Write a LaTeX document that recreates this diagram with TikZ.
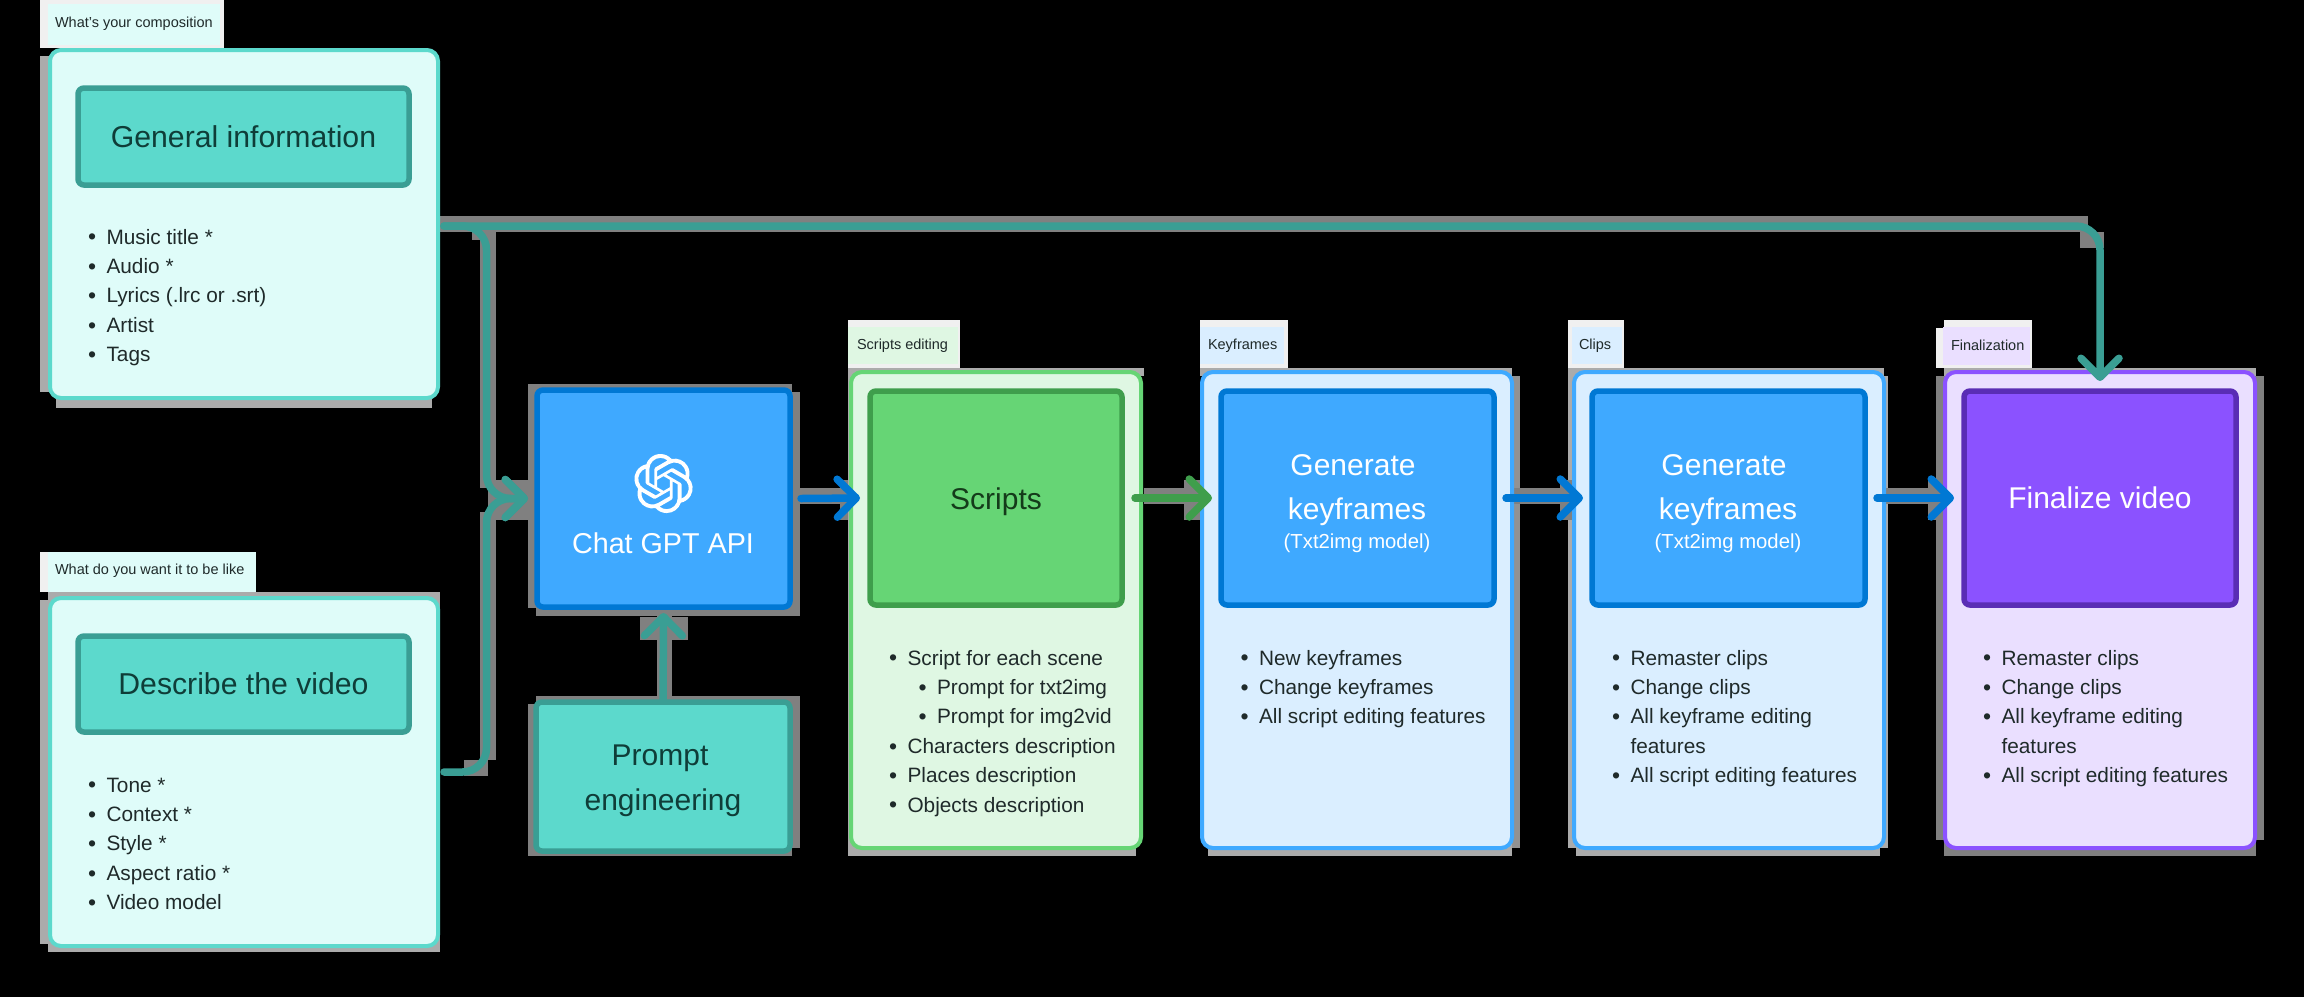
\documentclass[tikz,border=0pt]{standalone}
\usepackage{fontspec}
\setmainfont{Liberation Sans}
\usetikzlibrary{arrows.meta,svg.path}
\definecolor{teal1}{HTML}{5CD9CC}\definecolor{teal2}{HTML}{3A9E94}\definecolor{teal3}{HTML}{DFFCF9}
\definecolor{blue1}{HTML}{3FA9FF}\definecolor{blue2}{HTML}{0078D4}\definecolor{blue3}{HTML}{DAEEFF}
\definecolor{green1}{HTML}{66D575}\definecolor{green2}{HTML}{3F9E4C}\definecolor{green3}{HTML}{DFF7E3}
\definecolor{purp1}{HTML}{8B52FF}\definecolor{purp2}{HTML}{5A2DB5}\definecolor{purp3}{HTML}{EADFFF}
\definecolor{ink}{HTML}{1F2A2A}\definecolor{tealink}{HTML}{0F3D38}\definecolor{greenink}{HTML}{143B1A}
\definecolor{shgrey}{HTML}{808080}\definecolor{shmid}{HTML}{929292}\definecolor{shlight}{HTML}{ABABAB}\definecolor{shpale}{HTML}{F0F0F0}
\newcommand\fsz[1]{\fontsize{#1}{#1}\selectfont}
\newcommand\bx[7]{\pgfmathsetmacro\bxw{#5-#3}\pgfmathsetmacro\bxh{#6-#4}%
  \node[#2,minimum width=\bxw pt,minimum height=\bxh pt] (#1) at (#3,#4) {#7};}
\newcommand\shd[5]{\fill[#1] (#2,#3) rectangle (#4,#5);}
\newcommand\blist[4]{\node[listtext] (#1) at (#2,#3) {\begin{tabular}{@{}l@{\hspace{10.5pt}}l@{}}#4\end{tabular}};}
\newcommand\bul{\raisebox{-0.8pt}{\fontsize{23}{23}\selectfont\textbullet}}
\newcommand\sub[1]{\hspace{11pt}\bul\hspace{10.5pt}#1}
\tikzset{
 base/.style={anchor=north west,outer sep=0pt,inner sep=0pt,align=center},
 card/.style={base,rounded corners=11pt,line width=4pt},
 inbox/.style={base,rounded corners=6pt,line width=5.5pt},
 tealcard/.style={card,draw=teal1,fill=teal3},
 bluecard/.style={card,draw=blue1,fill=blue3},
 greencard/.style={card,draw=green1,fill=green3},
 purpcard/.style={card,draw=purp1,fill=purp3},
 tealbox/.style={inbox,draw=teal2,fill=teal1,text=tealink,font=\fsz{30.2}},
 bluebox/.style={inbox,draw=blue2,fill=blue1,text=white,font=\fsz{30}},
 greenbox/.style={inbox,draw=green2,fill=green1,text=greenink,font=\fsz{30}},
 purpbox/.style={inbox,draw=purp2,fill=purp1,text=white,font=\fsz{30}},
 tag/.style={anchor=west,inner sep=0pt,outer sep=0pt,text=ink,font=\fsz{14.5}},
 listtext/.style={anchor=north west,inner sep=0pt,outer sep=0pt,text=ink,font=\fontsize{20.8}{29.4}\selectfont},
 boxtext/.style={inner sep=0pt,outer sep=0pt},
 conn/.style={line width=7.5pt,line cap=round,-{Straight Barb[length=19pt,width=38pt,round]}},
}
\begin{document}
\begin{tikzpicture}[x=1pt,y=-1pt]
\useasboundingbox (0,0) rectangle (2304,997);
\fill[black] (0,0) rectangle (2304,997);
% shadows
\shd{shpale}{40}{0}{224}{48}
\shd{shlight}{40}{56}{432}{392}\shd{shlight}{56}{56}{432}{408}
\shd{shpale}{40}{552}{256}{592}
\shd{shlight}{48}{592}{440}{600}\shd{shlight}{40}{600}{432}{944}\shd{shlight}{48}{600}{440}{952}
\shd{shgrey}{528}{384}{792}{608}\shd{shgrey}{536}{392}{800}{616}
\shd{shgrey}{528}{704}{792}{856}\shd{shgrey}{536}{696}{800}{848}
\shd{shpale}{848}{320}{960}{368}\shd{shlight}{848}{368}{1144}{376}\shd{shlight}{848}{376}{1136}{856}
\shd{shpale}{1200}{320}{1288}{368}\shd{shlight}{1200}{368}{1512}{376}\shd{shmid}{1208}{376}{1520}{848}\shd{shlight}{1208}{840}{1512}{856}
\shd{shpale}{1568}{320}{1624}{368}\shd{shlight}{1568}{368}{1884}{376}\shd{shlight}{1568}{376}{1888}{848}\shd{shlight}{1576}{840}{1880}{856}
\shd{shpale}{1944}{320}{2032}{368}\shd{shpale}{1936}{328}{1944}{368}\shd{shlight}{1944}{368}{2256}{376}\shd{shgrey}{1936}{376}{2264}{840}\shd{shgrey}{1944}{840}{2256}{856}
% connector shadows
\shd{shgrey}{440}{216}{2088}{232}\shd{shgrey}{2080}{232}{2104}{248}
\shd{shgrey}{472}{232}{496}{240}\shd{shgrey}{480}{240}{496}{488}\shd{shgrey}{488}{488}{528}{512}\shd{shgrey}{496}{480}{528}{520}\shd{shgrey}{480}{512}{496}{760}
\shd{shgrey}{464}{760}{488}{776}
\shd{shgrey}{800}{488}{848}{504}\shd{shgrey}{840}{480}{848}{520}
\shd{shgrey}{1144}{488}{1184}{504}\shd{shgrey}{1184}{480}{1200}{520}
\shd{shgrey}{1514}{488}{1560}{504}\shd{shgrey}{1560}{480}{1576}{520}
\shd{shgrey}{1886}{488}{1928}{504}\shd{shgrey}{1928}{480}{1944}{520}
\shd{shgrey}{657}{610}{672}{700}\shd{shgrey}{640}{617}{688}{640}
% tag fills and tags
\shd{teal3}{48}{4}{220}{45}\node[tag] (tag1) at (55,23.5) {What's your composition};
\shd{teal3}{48}{552}{256}{592}\node[tag] (tag2) at (55,570.5) {What do you want it to be like};
\shd{green3}{848}{327}{958}{364}\node[tag] (tag3) at (857,346) {Scripts editing};
\shd{blue3}{1200}{327}{1284}{364}\node[tag] (tag4) at (1208,346) {Keyframes};
\shd{blue3}{1572}{327}{1622}{364}\node[tag] (tag5) at (1579,346) {Clips};
\shd{purp3}{1943}{327}{2030}{365}\node[tag] (tag6) at (1951,345) {Finalization};
% cards
\bx{gencard}{tealcard}{50}{50}{438}{398}{}
\bx{desccard}{tealcard}{50}{598}{438}{946}{}
\bx{scriptcard}{greencard}{851}{372}{1141}{848}{}
\bx{keycard}{bluecard}{1202}{372}{1512}{848}{}
\bx{clipcard}{bluecard}{1574}{372}{1884}{848}{}
\bx{finalcard}{purpcard}{1945}{372}{2255}{848}{}
% inner boxes
\bx{genbox}{tealbox}{78}{88}{409}{185}{General information}
\bx{descbox}{tealbox}{78}{636}{409}{732}{Describe the video}
\bx{chat}{bluebox}{537}{390}{790}{607}{}
\bx{prompt}{tealbox}{536}{702}{790}{851}{}
\bx{scriptbox}{greenbox}{870}{391}{1122}{605}{}
\bx{keybox}{bluebox}{1221}{391}{1494}{605}{}
\bx{clipbox}{bluebox}{1592}{391}{1865}{605}{}
\bx{finalbox}{purpbox}{1964}{391}{2236}{605}{Finalize video}
\node[boxtext,font=\fsz{30},text=greenink] (scriptt) at (996,501.5) {Scripts};
\node[boxtext,font=\fsz{28.7},text=white] (chattext) at (663,543) {Chat GPT API};
\node[boxtext,font=\fsz{30},text=tealink] (promptt1) at (660,758) {Prompt};
\node[boxtext,font=\fsz{30},text=tealink] (promptt2) at (663,803) {engineering};
\node[boxtext,font=\fsz{30},text=white] (keyt1) at (1353,465) {Generate};
\node[boxtext,font=\fsz{30},text=white] (keyt2) at (1357,512) {keyframes};
\node[boxtext,font=\fsz{20.3},text=white] (keyt3) at (1357,543) {(Txt2img model)};
\node[boxtext,font=\fsz{30},text=white] (clipt1) at (1724,465) {Generate};
\node[boxtext,font=\fsz{30},text=white] (clipt2) at (1728,512) {keyframes};
\node[boxtext,font=\fsz{20.3},text=white] (clipt3) at (1728,543) {(Txt2img model)};
% icon
\begin{scope}[shift={(634,454)},scale=2.46,yscale=-1]
\fill[white,even odd rule] svg {M22.2819 9.8211 a5.9847 5.9847 0 0 0 -.5157 -4.9108 6.0462 6.0462 0 0 0 -6.5098 -2.9 A6.0651 6.0651 0 0 0 4.9807 4.1818 a5.9847 5.9847 0 0 0 -3.9977 2.9 6.0462 6.0462 0 0 0 .7427 7.0966 5.98 5.98 0 0 0 .511 4.9107 6.051 6.051 0 0 0 6.5146 2.9001 A5.9847 5.9847 0 0 0 13.2599 24 a6.0557 6.0557 0 0 0 5.7718 -4.2058 5.9894 5.9894 0 0 0 3.9977 -2.9001 6.0557 6.0557 0 0 0 -.7475 -7.0729 z
M13.2599 22.4292 a4.4755 4.4755 0 0 1 -2.8764 -1.0408 l.1419 -.0804 4.7783 -2.7582 a.7948 .7948 0 0 0 .3927 -.6813 v-6.7369 l2.02 1.1686 a.071 .071 0 0 1 .038 .052 v5.5826 a4.504 4.504 0 0 1 -4.4945 4.4944 z
M3.5992 18.3038 a4.4708 4.4708 0 0 1 -.5346 -3.0137 l.142 .0852 4.783 2.7582 a.7712 .7712 0 0 0 .7806 0 l5.8428 -3.3685 v2.3324 a.0804 .0804 0 0 1 -.0332 .0615 L9.74 19.9502 a4.4992 4.4992 0 0 1 -6.1408 -1.6464 z
M2.3408 7.8956 a4.485 4.485 0 0 1 2.3655 -1.9728 V11.6 a.7664 .7664 0 0 0 .3879 .6765 l5.8144 3.3543 -2.0201 1.1685 a.0757 .0757 0 0 1 -.071 0 l-4.8303 -2.7865 A4.504 4.504 0 0 1 2.3408 7.872 z
M18.9371 11.7514 L13.1038 8.364 15.1192 7.2 a.0757 .0757 0 0 1 .071 0 l4.8303 2.7913 a4.4944 4.4944 0 0 1 -.6765 8.1042 v-5.6772 a.79 .79 0 0 0 -.407 -.667 z
M20.9478 8.7283 l-.142 -.0852 -4.7735 -2.7818 a.7759 .7759 0 0 0 -.7854 0 L9.409 9.2297 V6.8974 a.0662 .0662 0 0 1 .0284 -.0615 l4.8303 -2.7866 a4.4992 4.4992 0 0 1 6.6802 4.66 z
M8.3065 12.863 l-2.02 -1.1638 a.0804 .0804 0 0 1 -.038 -.0567 V6.0742 a4.4992 4.4992 0 0 1 7.3757 -3.4537 l-.142 .0805 L8.704 5.459 a.7948 .7948 0 0 0 -.3927 .6813 z
M9.4041 10.4976 l2.602 -1.4998 2.6069 1.4998 v2.9994 l-2.5974 1.4997 -2.6067 -1.4997 z};
\end{scope}
% lists
\blist{genlist}{88}{223.5}{\bul&Music title *\\\bul&Audio *\\\bul&Lyrics (.lrc or .srt)\\\bul&Artist\\\bul&Tags}
\blist{desclist}{88}{771.5}{\bul&Tone *\\\bul&Context *\\\bul&Style *\\\bul&Aspect ratio *\\\bul&Video model}
\blist{scriptlist}{889}{644.5}{\bul&Script for each scene\\&\sub{Prompt for txt2img}\\&\sub{Prompt for img2vid}\\\bul&Characters description\\\bul&Places description\\\bul&Objects description}
\blist{keylist}{1240.5}{644.5}{\bul&New keyframes\\\bul&Change keyframes\\\bul&All script editing features}
\blist{cliplist}{1612}{644.5}{\bul&Remaster clips\\\bul&Change clips\\\bul&All keyframe editing\\&features\\\bul&All script editing features}
\blist{finallist}{1983}{644.5}{\bul&Remaster clips\\\bul&Change clips\\\bul&All keyframe editing\\&features\\\bul&All script editing features}
% connectors
\coordinate (merge) at (486.5,498.5);
\draw[conn,teal2,rounded corners=24pt] ([xshift=6pt,yshift=-2pt]gencard.east) -| (merge) -- ([xshift=-9pt]chat.west);
\draw[conn,teal2,rounded corners=24pt] ([xshift=6pt]desccard.east) -| (merge) -- ([xshift=-9pt]chat.west);
\draw[conn,teal2,rounded corners=24pt] ([xshift=6pt,yshift=-2pt]gencard.east) -| ([yshift=-9pt]finalcard.north);
\draw[conn,teal2] ([yshift=1.5pt]prompt.north) -- ([yshift=-6pt]chat.south);
\draw[conn,blue2] ([xshift=11pt]chat.east) -- ([xshift=-10pt]scriptbox.west);
\draw[conn,green2] ([xshift=13pt]scriptbox.east) -- ([xshift=-9pt]keybox.west);
\draw[conn,blue2] ([xshift=12pt]keybox.east) -- ([xshift=-9pt]clipbox.west);
\draw[conn,blue2] ([xshift=12pt]clipbox.east) -- ([xshift=-10pt]finalbox.west);
\end{tikzpicture}
\end{document}
